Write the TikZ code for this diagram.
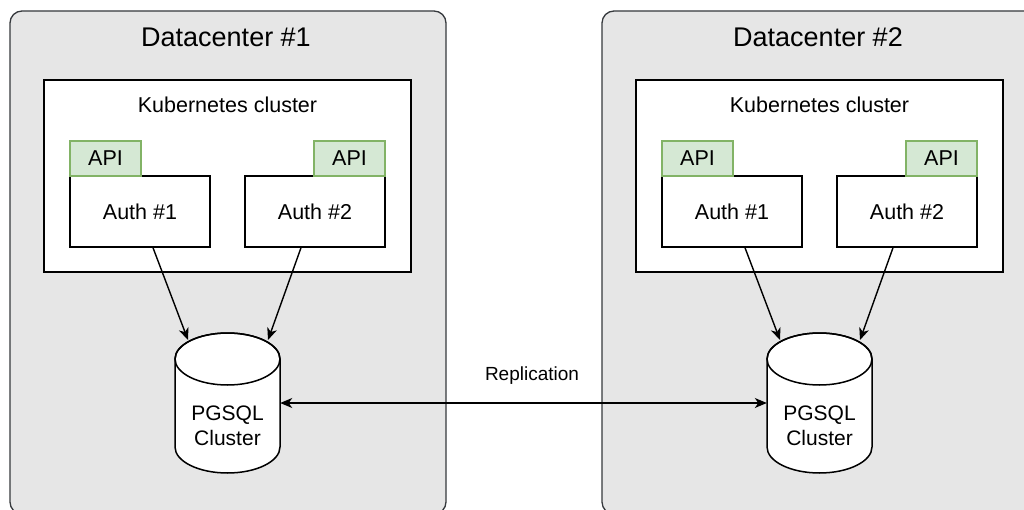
\documentclass[tikz,border=0pt]{standalone}
\usepackage{fontspec}
\setmainfont{Liberation Sans}
\usetikzlibrary{arrows.meta,calc}
\definecolor{dcfill}{HTML}{E6E6E6}
\definecolor{dcline}{HTML}{36393D}
\definecolor{apifill}{HTML}{D5E8D4}
\definecolor{apiline}{HTML}{82B366}
\tikzset{
  dcbox/.style={draw=dcline, fill=dcfill, line width=1.3pt, rounded corners=12pt},
  k8sbox/.style={draw=black, fill=white, line width=1.5pt},
  authbox/.style={draw=black, fill=white, line width=1.5pt, font=\fontsize{21.5}{25}\selectfont},
  apibox/.style={draw=apiline, fill=apifill, line width=1.3pt, font=\fontsize{21.5}{25}\selectfont},
  lbl/.style={inner sep=0pt, font=\fontsize{21.5}{25}\selectfont},
  conn/.style={draw=black, line width=1.4pt, -{Stealth[length=12pt,width=10pt,inset=3.5pt]}},
}
\begin{document}
\begin{tikzpicture}[x=1pt,y=-1pt]
\useasboundingbox (0,0) rectangle (1024,510);
\clip (0,0) rectangle (1024,510);
\fill[white] (0,0) rectangle (1024,510);
\foreach \o/\i in {0/1,592/2}{
  % datacenter
  \draw[dcbox] (10+\o,11) rectangle (446+\o,514);
  \node[inner sep=0pt, font=\fontsize{27}{30}\selectfont] (title\i) at (226+\o,37) {Datacenter \#\i};
  % kubernetes
  \node[k8sbox, minimum width=367, minimum height=192, inner sep=0pt] (k8s\i) at (227.5+\o,176) {};
  \node[lbl] (ktitle\i) at (227.5+\o,105) {Kubernetes cluster};
  % auth boxes
  \node[authbox, minimum width=140, minimum height=71, inner sep=0pt] (au1\i) at (140+\o,211.5) {Auth \#1};
  \node[authbox, minimum width=140, minimum height=71, inner sep=0pt] (au2\i) at (315+\o,211.5) {Auth \#2};
  \node[apibox, minimum width=71, minimum height=35, inner sep=0pt] (api1\i) at (105.5+\o,158.5) {API};
  \node[apibox, minimum width=71, minimum height=35, inner sep=0pt] (api2\i) at (349.5+\o,158.5) {API};
  % cylinder
  \node[minimum width=105, minimum height=140, inner sep=0pt] (db\i) at (227.5+\o,403) {};
  \filldraw[draw=black, fill=white, line width=1.5pt]
    (175+\o,359) -- (175+\o,447)
    arc[start angle=180, end angle=360, x radius=52.5pt, y radius=26pt]
    -- (280+\o,359)
    arc[start angle=0, end angle=180, x radius=52.5pt, y radius=26pt] -- cycle;
  \draw[line width=1.5pt] (227.5+\o,359) ellipse [x radius=52.5pt, y radius=26pt];
  \node[align=center, inner sep=0pt, font=\fontsize{21}{25}\selectfont] (dbl\i) at (227.5+\o,425.5) {PGSQL\\Cluster};
  % connectors
  \coordinate (t1\i) at (188+\o,340);
  \coordinate (t2\i) at (268+\o,340);
  \draw[conn] ($(au1\i.south)+(13,0)$) -- (t1\i);
  \draw[conn] ($(au2\i.south)+(-14,0)$) -- (t2\i);
}
\node[inner sep=0pt, font=\fontsize{19}{22}\selectfont] (rep) at (532,376) {Replication};
\draw[line width=1.4pt, {Stealth[length=12pt,width=10pt,inset=3.5pt]}-{Stealth[length=12pt,width=10pt,inset=3.5pt]}] (db1.east) -- (db2.west);
\end{tikzpicture}
\end{document}
